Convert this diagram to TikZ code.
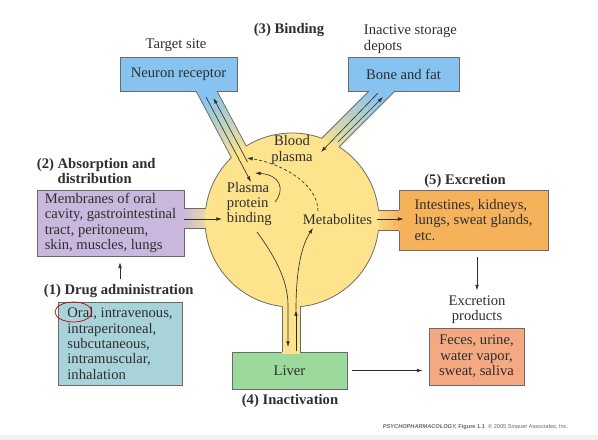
\documentclass[tikz,border=0pt]{standalone}
\usepackage{fontspec}
\setmainfont{Liberation Serif}
\setsansfont{Liberation Sans}
\usetikzlibrary{arrows.meta}

\definecolor{plasma}{HTML}{FCE38C}
\definecolor{receptor}{HTML}{86C3F0}
\definecolor{absorb}{HTML}{C9B7DE}
\definecolor{admin}{HTML}{A9D3DA}
\definecolor{excrete}{HTML}{F6B25B}
\definecolor{product}{HTML}{F4A982}
\definecolor{liverg}{HTML}{9CDA9C}
\definecolor{edge}{HTML}{6A6A6A}
\definecolor{ink}{HTML}{2E2E2E}

\newcommand{\lbl}{\fontsize{10.4}{11}\selectfont}

\begin{document}
\begin{tikzpicture}[x=0.025cm, y=-0.025cm,
    box/.style={draw=edge, line width=0.55pt, font=\lbl, text=ink, inner sep=0pt},
    txt/.style={font=\lbl, text=ink},
    stagelbl/.style={font=\lbl\bfseries, text=ink},
    arr/.style={-{Latex[length=4pt, width=2.6pt]}, line width=0.45pt, draw=ink},
    darr/.style={arr, dash pattern=on 2.2pt off 1.6pt},
    rim/.style={draw=edge, line width=0.55pt},
]
\useasboundingbox (0,0) rectangle (598,440);
\fill[gray!12] (0,435) rectangle (598,440);

% === Boxes ===
\node[box, fill=receptor, minimum width=2.925cm, minimum height=0.85cm] (receptor) at (178.5,74) {Neuron receptor};
\node[box, fill=receptor, minimum width=2.775cm, minimum height=0.85cm] (depot) at (403.5,74) {Bone and fat};
\node[box, fill=absorb, minimum width=3.675cm, minimum height=1.65cm, align=left] (membranes) at (110.5,223) {Membranes of oral\\cavity, gastrointestinal\\tract, peritoneum,\\skin, muscles, lungs};
\node[box, fill=admin, minimum width=3.1cm, minimum height=2.075cm, align=left] (routes) at (120,343.5) {Oral, intravenous,\\intraperitoneal,\\subcutaneous,\\intramuscular,\\inhalation};
\node[box, fill=excrete, minimum width=3.725cm, minimum height=1.5cm, align=left] (organs) at (473.5,220) {Intestines, kidneys,\\lungs, sweat glands,\\etc.};
\node[box, fill=product, minimum width=2.375cm, minimum height=1.425cm, align=center] (waste) at (476.5,356.5) {Feces, urine,\\water vapor,\\sweat, saliva};
\node[box, fill=liverg, minimum width=2.875cm, minimum height=0.925cm] (liver) at (289.5,370.5) {Liver};

% === Channels into the blood plasma ===
\shade[top color=receptor, bottom color=plasma, shading angle=28] (195.1,89.2) -- (216.1,89.2) -- (254.5,161.6) -- (233.5,161.6) -- cycle;
\shade[top color=receptor, bottom color=plasma, shading angle=-45] (370.4,89.6) -- (396.4,89.6) -- (331.4,154.6) -- (305.4,154.6) -- cycle;
\shade[left color=absorb, right color=plasma] (182.5,208) rectangle (215,228);
\shade[left color=plasma, right color=excrete] (370,210) rectangle (400.5,230);
\fill[plasma] (282,295) rectangle (300,353.5);

% === Blood plasma ===
\coordinate (core) at (292,220);
\fill[plasma] (core) circle[radius=87];
\begin{scope}[even odd rule]
  \clip (0,0) rectangle (598,440)
    (195.1,89.2) -- (216.1,89.2) -- (254.5,161.6) -- (233.5,161.6) -- cycle
    (370.4,89.6) -- (396.4,89.6) -- (331.4,154.6) -- (305.4,154.6) -- cycle
    (182.5,208) rectangle (215,228)
    (370,210) rectangle (400.5,230)
    (282,295) rectangle (300,353.5);
  \draw[rim] (core) circle[radius=87];
\end{scope}
\begin{scope}[even odd rule]
  \clip (0,0) rectangle (598,440) (core) circle[radius=87];
  \draw[rim] (196,91) -- (233.5,161.6) (217,91) -- (254.5,161.6);
  \draw[rim] (369,91) -- (305.4,154.6) (395,91) -- (331.4,154.6);
  \draw[rim] (184,208) -- (215,208) (184,228) -- (215,228);
  \draw[rim] (399,210) -- (370,210) (399,230) -- (370,230);
  \draw[rim] (282,352) -- (282,295) (300,352) -- (300,295);
\end{scope}

% === Texts in the plasma ===
\node[txt, align=center] (blood) at (292,150) {Blood\\plasma};
\node[txt, align=left, anchor=west] (protein) at (222,204) {Plasma\\protein\\binding};
\node[txt] (metab) at (337.5,219) {Metabolites};

% === Stage labels ===
\node[stagelbl] (binding-label) at (289,30) {(3) Binding};
\node[txt] (target-label) at (176,45) {Target site};
\node[txt, align=left, anchor=west] (depot-label) at (359,39) {Inactive storage\\depots};
\node[stagelbl, align=left, anchor=west] (absorb-label) at (32,172.5) {(2) Absorption and\\\phantom{(2) }distribution};
\node[stagelbl, anchor=west] (admin-label) at (39,291) {(1) Drug administration};
\node[stagelbl] (excrete-label) at (465,181) {(5) Excretion};
\node[stagelbl] (inact-label) at (290,401) {(4) Inactivation};
\node[txt, align=center] (waste-label) at (477,309.5) {Excretion\\products};
\node[font=\sffamily\fontsize{4}{5}\selectfont, text=gray!80!black, anchor=west] (credit) at (378,427) {\textbf{\textit{PSYCHOPHARMACOLOGY,}} \textbf{Figure 1.1} \ \textcopyright\ 2005 Sinauer Associates, Inc.};

% mark round "Oral"
\draw[red!75!black, line width=0.5pt] (73.5,312) ellipse [x radius=18.5, y radius=10];

% === Flows ===
\coordinate (rec-top1) at (206,97);
\coordinate (rec-bot1) at (251,182);
\coordinate (rec-top2) at (213.5,98);
\coordinate (rec-bot2) at (247.5,162);
\coordinate (fat-top1) at (378,93);
\coordinate (fat-bot1) at (321,152);
\coordinate (fat-top2) at (383,97);
\coordinate (fat-bot2) at (338,142);
\coordinate (liv-in) at (288,347);
\coordinate (liv-out) at (296,351);
\coordinate (liv-mid) at (296,310);
\coordinate (bind-start) at (257,232);
\coordinate (bind-back) at (275,202);
\coordinate (bind-tip) at (255,173);
\coordinate (meta-top) at (318,211);
\coordinate (meta-bot) at (313,228);
\coordinate (dash-tip) at (247,158);

\draw[arr] (rec-top1) -- (rec-bot1);
\draw[arr] (rec-bot2) -- (rec-top2);
\draw[arr] (fat-top1) -- (fat-bot1);
\draw[arr] (fat-bot2) -- (fat-top2);
\draw[arr] (bind-start) .. controls (274,255) and (288,280) .. (288,305) -- (liv-in);
\draw[arr] (liv-out) -- (liv-mid);
\draw[arr] (liv-mid) .. controls (296,268) and (302,245) .. (meta-bot);
\draw[arr] (bind-back) .. controls (285,190) and (281,175) .. (bind-tip);
\draw[darr] (meta-top) .. controls (318,183) and (280,163) .. (dash-tip);

\draw[arr] (membranes.east |- metab) -- (protein.west |- metab);
\draw[arr] (metab.east) -- ([xshift=0.125cm]organs.west |- metab);
\draw[arr] ([yshift=-0.175cm]organs.south -| waste-label.north) -- (waste-label.north);
\draw[arr] ([xshift=0.125cm]liver.east) -- ([xshift=-0.15cm]waste.west |- liver.east);
\draw[arr] (admin-label.north -| routes.north) -- ([yshift=-0.15cm]membranes.south -| routes.north);

\end{tikzpicture}
\end{document}
